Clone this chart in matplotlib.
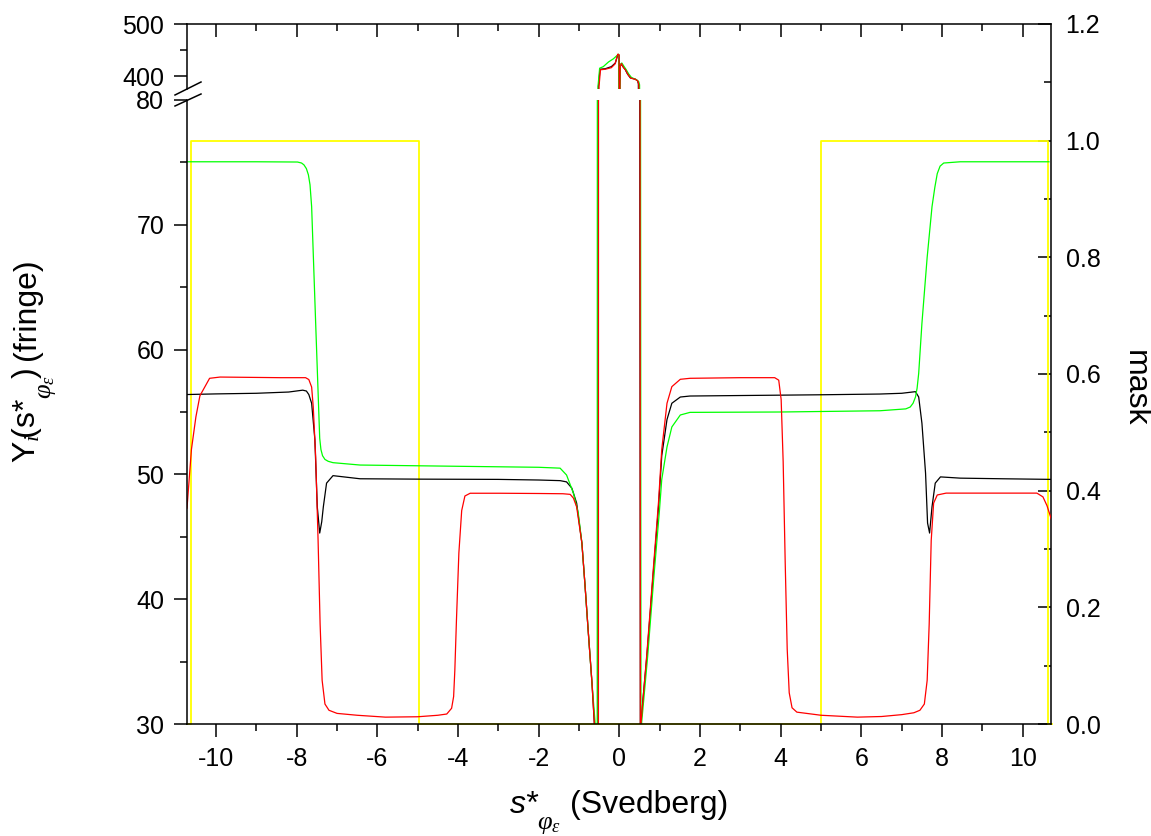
import matplotlib
matplotlib.use('Agg')
import matplotlib.pyplot as plt
from matplotlib.ticker import MultipleLocator, FixedLocator, FormatStrFormatter
from matplotlib.lines import Line2D

# values (left axis units, fringe)
black_x = [-10.72, -10.0, -9.0, -8.2, -7.85, -7.76, -7.70, -7.63, -7.55, -7.49, -7.43, -7.38, -7.34,
           -7.26, -7.10, -6.43, -5.0, -3.0, -2.0, -1.47, -1.31, -1.18, -1.06, -0.93, -0.85,
           -0.77, -0.68, -0.62, -0.58, -0.535, -0.52, -0.48, -0.35, -0.2, -0.1, -0.04, -0.01,
           0.0, 0.015, 0.04, 0.09, 0.14, 0.2, 0.27, 0.39, 0.45, 0.47, 0.50, 0.52, 0.53, 0.68,
           0.84, 0.97, 1.05, 1.18, 1.30, 1.51, 1.75, 3.0, 5.0, 6.46, 7.0, 7.34, 7.42, 7.50,
           7.59, 7.64, 7.69, 7.75, 7.83, 7.96, 8.45, 9.5, 10.72]
black_y = [56.40, 56.45, 56.5, 56.6, 56.75, 56.68, 56.4, 55.7, 52.8, 47.4, 45.3, 46.2, 47.4,
           49.3, 49.9, 49.65, 49.62, 49.6, 49.55, 49.5, 49.4, 48.9, 47.7, 44.5, 41.0,
           37.3, 33.3, 30.0, 27.0, 28.0, 380, 413, 414, 418, 425, 441, 440,
           300, 420, 423, 418, 413, 404, 396.5, 394, 391, 385, 100, 28.0, 30.05, 35.4,
           42.1, 47.4, 51.5, 54.4, 55.7, 56.2, 56.28, 56.32, 56.38, 56.44, 56.5, 56.63, 56.2, 54.1,
           50.1, 46.1, 45.3, 47.4, 49.3, 49.8, 49.7, 49.65, 49.6]

red_x = [-10.72, -10.61, -10.5, -10.40, -10.16, -9.9, -8.4, -7.78, -7.70, -7.63, -7.59, -7.53,
         -7.47, -7.42, -7.37, -7.30, -7.2, -7.0, -6.5, -5.8, -5.0, -4.5, -4.28, -4.16, -4.11,
         -4.08, -4.04, -3.98, -3.91, -3.83, -3.70, -2.96, -2.0, -1.40, -1.22, -1.14, -1.06,
         -0.93, -0.85, -0.77, -0.68, -0.62, -0.58, -0.52, -0.505, -0.47, -0.35, -0.2, -0.11,
         -0.04, -0.01, 0.0, 0.02, 0.05, 0.1, 0.15, 0.21, 0.28, 0.40, 0.46, 0.48, 0.51, 0.52,
         0.535, 0.68, 0.84, 0.97, 1.05, 1.18, 1.30, 1.51, 1.75, 3.0, 3.85, 3.95, 4.01, 4.06,
         4.11, 4.16, 4.21, 4.28, 4.4, 5.0, 5.9, 6.5, 7.0, 7.3, 7.45, 7.56, 7.63, 7.68, 7.73,
         7.79, 7.88, 8.1, 9.5, 10.35, 10.5, 10.6, 10.72]
red_y = [47.3, 52.0, 54.6, 56.3, 57.7, 57.8, 57.75, 57.75, 57.6, 57.0, 55.4, 51.4,
         44.7, 38.0, 33.5, 31.6, 31.1, 30.85, 30.7, 30.55, 30.58, 30.7, 30.8, 31.26, 32.2,
         34.3, 38.3, 43.7, 47.1, 48.27, 48.49, 48.49, 48.47, 48.45, 48.4, 48.1, 47.4,
         44.5, 41.0, 37.3, 33.3, 30.0, 27.0, 28.0, 380, 412, 413, 416, 423,
         442, 441, 300, 418, 424, 416, 412, 403, 396, 393.5, 390, 384, 100, 28.0,
         30.05, 35.6, 42.4, 47.8, 52.0, 55.7, 57.03, 57.62, 57.7, 57.75, 57.75, 57.55, 56.0, 51.0,
         43.0, 36.0, 32.5, 31.3, 30.95, 30.7, 30.55, 30.6, 30.75, 30.9, 31.1, 31.6, 33.5, 38.0, 44.7,
         47.7, 48.35, 48.5, 48.5, 48.5, 48.2, 47.5, 46.3]

green_x = [-10.72, -9.0, -7.98, -7.88, -7.82, -7.76, -7.71, -7.67, -7.63, -7.53, -7.43, -7.40,
           -7.36, -7.30, -7.22, -7.10, -6.43,
           -4.0, -2.0, -1.47, -1.31, -1.14, -1.02, -0.93, -0.85, -0.77, -0.68, -0.60, -0.57,
           -0.55, -0.53, -0.49, -0.4, -0.27, -0.15, -0.05, -0.02, -0.005, 0.025, 0.06, 0.11,
           0.17, 0.23, 0.30, 0.42, 0.48, 0.50, 0.52, 0.535, 0.55, 0.70, 0.86, 0.99, 1.05, 1.18,
           1.30, 1.51, 1.75, 4.0, 6.46, 7.10, 7.21, 7.28, 7.34, 7.38, 7.42, 7.50, 7.63, 7.75,
           7.82, 7.88, 7.95, 8.04, 8.45, 10.65]
green_y = [75.05, 75.05, 75.03, 74.95, 74.8, 74.5, 74.0, 73.2, 71.45, 62.1, 52.9, 52.0,
           51.5, 51.2, 51.05, 50.94, 50.75,
           50.65, 50.57, 50.5, 49.95, 48.5, 46.9, 44.5, 41.0, 37.3, 33.3, 30.0, 27.0,
           28.0, 380, 415, 418, 427, 433, 440, 442, 300, 422, 425, 419,
           412, 404, 397, 393, 389, 383, 100, 28.0, 30.05, 35.4, 42.0, 47.0, 49.6, 52.2,
           53.8, 54.76, 54.97, 55.0, 55.1, 55.25, 55.4, 55.7, 56.2, 56.9, 58.1, 62.1, 67.4, 71.45,
           73.0, 74.1, 74.7, 74.95, 75.05, 75.05]

mask_x = [-10.72, -10.63, -10.63, -4.97, -4.97, 5.0, 5.0, 10.63, 10.63, 10.72]
mask_y = [0, 0, 1, 1, 0, 0, 1, 1, 0, 0]

xlim = (-10.72, 10.70)

plt.rcParams['font.family'] = ['Liberation Sans', 'DejaVu Sans']
plt.rcParams['axes.unicode_minus'] = False
plt.rcParams['mathtext.fontset'] = 'custom'
plt.rcParams['mathtext.rm'] = 'Liberation Sans'
plt.rcParams['mathtext.it'] = 'Liberation Serif:italic'

W_PX, H_PX = 1151, 836
fig = plt.figure(figsize=(W_PX / 100, H_PX / 100), dpi=100)
left, width = 187 / W_PX, 864 / W_PX

ax_m = fig.add_axes([left, 1 - 724 / H_PX, width, 700 / H_PX])
ax_lo = fig.add_axes([left, 1 - 724 / H_PX, width, 624 / H_PX])
ax_hi = fig.add_axes([left, 1 - 89 / H_PX, width, 65 / H_PX])
for a in (ax_lo, ax_hi):
    a.set_zorder(2)
    a.patch.set_visible(False)

lw_spine = 1.1
tk = dict(length=9.4, width=lw_spine, labelsize=18)
tkm = dict(length=5, width=lw_spine)

# mask axis (right)
ax_m.plot(mask_x, mask_y, color='#ffff00', lw=1.3, clip_on=False)
ax_m.set_xlim(xlim)
ax_m.set_ylim(0, 1.2)
for s in ('left', 'top', 'bottom'):
    ax_m.spines[s].set_visible(False)
ax_m.spines['right'].set_linewidth(lw_spine)
ax_m.yaxis.tick_right()
ax_m.yaxis.set_major_locator(MultipleLocator(0.2))
ax_m.yaxis.set_minor_locator(MultipleLocator(0.1))
ax_m.yaxis.set_major_formatter(FormatStrFormatter('%.1f'))
ax_m.tick_params(axis='y', which='major', direction='in', pad=10.5, **tk)
ax_m.tick_params(axis='y', which='minor', direction='in', **tkm)
ax_m.tick_params(axis='x', which='both', bottom=False, labelbottom=False)

# curves on both parts of the broken left axis
for a in (ax_lo, ax_hi):
    a.plot(black_x, black_y, color='black', lw=0.9)
    a.plot(green_x, green_y, color='#00ff00', lw=0.9)
    a.plot(red_x, red_y, color='#ff0000', lw=0.9)
    a.set_xlim(xlim)
    a.spines['left'].set_linewidth(lw_spine)
    a.spines['right'].set_visible(False)
    a.xaxis.set_major_locator(MultipleLocator(2))
    a.xaxis.set_minor_locator(MultipleLocator(1))

ax_lo.set_ylim(30, 80)
ax_lo.spines['top'].set_visible(False)
ax_lo.spines['bottom'].set_linewidth(lw_spine)
ax_lo.yaxis.set_major_locator(MultipleLocator(10))
ax_lo.yaxis.set_minor_locator(MultipleLocator(5))
ax_lo.tick_params(which='major', direction='out', pad=7, **tk)
ax_lo.tick_params(which='minor', direction='out', **tkm)

ax_hi.set_ylim(375, 500)
ax_hi.spines['bottom'].set_visible(False)
ax_hi.spines['top'].set_linewidth(lw_spine)
ax_hi.yaxis.set_major_locator(FixedLocator([400, 500]))
ax_hi.yaxis.set_minor_locator(FixedLocator([450]))
ax_hi.tick_params(axis='y', which='major', direction='out', pad=7, **tk)
ax_hi.tick_params(axis='y', which='minor', direction='out', **tkm)
ax_hi.tick_params(axis='x', which='both', bottom=False, labelbottom=False,
                  top=True, labeltop=False, direction='in')
ax_hi.tick_params(axis='x', which='major', length=9.4, width=lw_spine)
ax_hi.tick_params(axis='x', which='minor', length=5, width=lw_spine)

# break marks on the left axis
for y0, y1 in ((95, 82), (106, 94)):
    fig.add_artist(Line2D([175 / W_PX, 201 / W_PX], [1 - y0 / H_PX, 1 - y1 / H_PX],
                          color='black', lw=lw_spine))


def put(px, py, s, size, rot=0, **kw):
    # text placed by the start of its baseline, in pixels from the top left
    fig.text(px / W_PX, 1 - py / H_PX, s, fontsize=size, rotation=rot,
             rotation_mode='anchor', ha='left', va='baseline', **kw)


sub = r'$\varphi_{\varepsilon}$'

# x title: s*_(phi_eps)  (Svedberg)
put(510, 813, 's*', 23, style='italic')
put(537, 829, sub, 19)
put(570, 813, '(Svedberg)', 23)

# left title: Y_i(s*_(phi_eps) ) (fringe), rotated
put(35, 463, r'Y$_{i}\!$(s*', 23, 90)
put(51, 399, sub, 19, 90)
put(35, 378, ')', 23, 90)
put(35, 360, '(fringe)', 23, 90)

# right title
fig.text(1135 / W_PX, 1 - 388 / H_PX, 'mask', rotation=270,
         ha='center', va='center', fontsize=23)

fig.savefig('out.png', dpi=100)
